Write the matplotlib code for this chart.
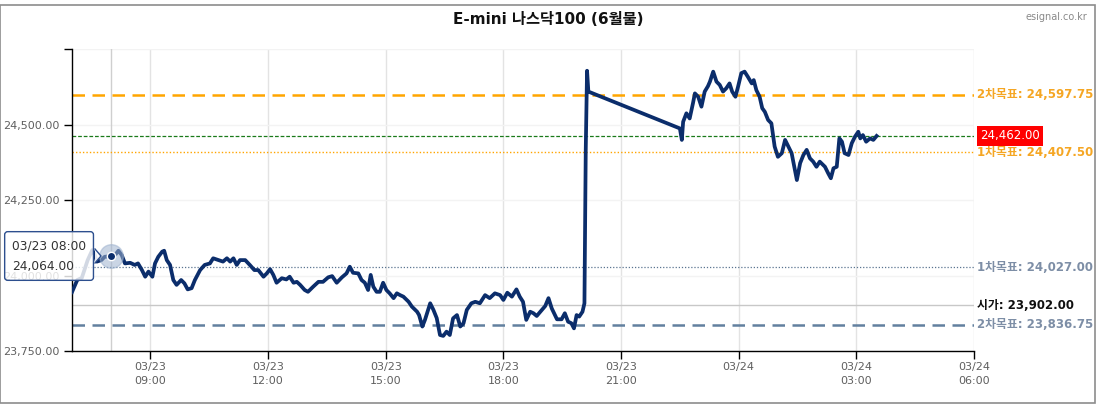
import matplotlib.pyplot as plt
import matplotlib.dates as mdates
import matplotlib.ticker as mticker
import pandas as pd
from matplotlib.patches import Rectangle, Polygon
from matplotlib.lines import Line2D

plt.rcParams['font.family'] = ['DejaVu Sans', 'Noto Sans CJK KR']

# price path (KST)
times = [
    "03/23 07:00", "03/23 07:08", "03/23 07:15", "03/23 07:24", "03/23 07:31", "03/23 07:35",
    "03/23 07:38", "03/23 07:45", "03/23 07:50", "03/23 08:00", "03/23 08:06", "03/23 08:11",
    "03/23 08:16", "03/23 08:21", "03/23 08:29", "03/23 08:36", "03/23 08:41", "03/23 08:47",
    "03/23 08:52", "03/23 08:57", "03/23 09:03", "03/23 09:07", "03/23 09:12", "03/23 09:18",
    "03/23 09:21", "03/23 09:25", "03/23 09:30", "03/23 09:35", "03/23 09:40", "03/23 09:47",
    "03/23 09:52", "03/23 09:57", "03/23 10:03", "03/23 10:08", "03/23 10:16", "03/23 10:23",
    "03/23 10:31", "03/23 10:36", "03/23 10:44", "03/23 10:51", "03/23 10:57", "03/23 11:02",
    "03/23 11:07", "03/23 11:12", "03/23 11:17", "03/23 11:25", "03/23 11:32", "03/23 11:39",
    "03/23 11:45", "03/23 11:53", "03/23 11:58", "03/23 12:03", "03/23 12:08", "03/23 12:13",
    "03/23 12:21", "03/23 12:28", "03/23 12:33", "03/23 12:39", "03/23 12:44", "03/23 12:49",
    "03/23 12:56", "03/23 13:01", "03/23 13:09", "03/23 13:17", "03/23 13:24", "03/23 13:32",
    "03/23 13:38", "03/23 13:45", "03/23 13:53", "03/23 14:00", "03/23 14:05", "03/23 14:10",
    "03/23 14:18", "03/23 14:23", "03/23 14:28", "03/23 14:33", "03/23 14:37", "03/23 14:41",
    "03/23 14:46", "03/23 14:51", "03/23 14:56", "03/23 15:01", "03/23 15:06", "03/23 15:12",
    "03/23 15:17", "03/23 15:22", "03/23 15:27", "03/23 15:35", "03/23 15:40", "03/23 15:48",
    "03/23 15:51", "03/23 15:56", "03/23 16:00", "03/23 16:04", "03/23 16:08", "03/23 16:13",
    "03/23 16:18", "03/23 16:23", "03/23 16:28", "03/23 16:33", "03/23 16:38", "03/23 16:43",
    "03/23 16:49", "03/23 16:54", "03/23 16:59", "03/23 17:04", "03/23 17:11", "03/23 17:17",
    "03/23 17:24", "03/23 17:32", "03/23 17:39", "03/23 17:47", "03/23 17:55", "03/23 18:00",
    "03/23 18:06", "03/23 18:13", "03/23 18:20", "03/23 18:25", "03/23 18:30", "03/23 18:35",
    "03/23 18:41", "03/23 18:46", "03/23 18:51", "03/23 18:59", "03/23 19:04", "03/23 19:09",
    "03/23 19:14", "03/23 19:22", "03/23 19:29", "03/23 19:34", "03/23 19:39", "03/23 19:44",
    "03/23 19:48", "03/23 19:52", "03/23 19:56", "03/23 20:01", "03/23 20:04", "03/23 20:06",
    "03/23 20:08", "03/23 20:10",
    "03/23 22:30", "03/23 22:33", "03/23 22:35", "03/23 22:40", "03/23 22:45", "03/23 22:50",
    "03/23 22:53", "03/23 22:58", "03/23 23:03", "03/23 23:08", "03/23 23:13", "03/23 23:16",
    "03/23 23:21", "03/23 23:26", "03/23 23:31", "03/23 23:36", "03/23 23:41", "03/23 23:46",
    "03/23 23:50", "03/23 23:55", "03/23 23:59", "03/24 00:04", "03/24 00:09", "03/24 00:14",
    "03/24 00:20", "03/24 00:23", "03/24 00:27", "03/24 00:32", "03/24 00:36", "03/24 00:40",
    "03/24 00:45", "03/24 00:50", "03/24 00:55", "03/24 01:00", "03/24 01:06", "03/24 01:11",
    "03/24 01:16", "03/24 01:21", "03/24 01:26", "03/24 01:29", "03/24 01:34", "03/24 01:39",
    "03/24 01:44", "03/24 01:49", "03/24 01:54", "03/24 01:59", "03/24 02:04", "03/24 02:12",
    "03/24 02:17", "03/24 02:21", "03/24 02:25", "03/24 02:30", "03/24 02:34", "03/24 02:38",
    "03/24 02:42", "03/24 02:48", "03/24 02:53", "03/24 02:58", "03/24 03:03", "03/24 03:06",
    "03/24 03:10", "03/24 03:15", "03/24 03:21", "03/24 03:26", "03/24 03:31",
]
prices = [
    23945, 23985, 23992, 24051, 24084, 24068,
    24046, 24051, 24062, 24064, 24068, 24082,
    24068, 24040, 24042, 24035, 24040, 24018,
    23996, 24013, 23996, 24040, 24062, 24079,
    24082, 24051, 24035, 23985, 23969, 23985,
    23974, 23954, 23958, 23985, 24018, 24035,
    24040, 24057, 24051, 24046, 24057, 24046,
    24057, 24035, 24051, 24051, 24035, 24018,
    24018, 23996, 24007, 24021, 24002, 23976,
    23991, 23987, 23996, 23976, 23979, 23969,
    23952, 23946, 23963, 23979, 23979, 23994,
    23998, 23976, 23994, 24007, 24029, 24009,
    24007, 23985, 23976, 23952, 24002, 23963,
    23946, 23946, 23976, 23952, 23941, 23925,
    23941, 23935, 23930, 23913, 23897, 23880,
    23869, 23831, 23853, 23880, 23908, 23886,
    23859, 23803, 23800, 23814, 23803, 23858,
    23869, 23831, 23842, 23886, 23908, 23913,
    23908, 23935, 23925, 23941, 23935, 23919,
    23943, 23930, 23954, 23930, 23913, 23853,
    23880, 23875, 23866, 23886, 23899, 23925,
    23891, 23855, 23855, 23875, 23847, 23842,
    23825, 23869, 23864, 23880, 23908, 24416,
    24678, 24609,
    24487, 24449, 24509, 24537, 24520, 24570,
    24603, 24592, 24559, 24609, 24627, 24642,
    24675, 24642, 24631, 24609, 24620, 24636,
    24609, 24592, 24625, 24670, 24675, 24658,
    24636, 24647, 24614, 24592, 24554, 24542,
    24515, 24504, 24427, 24393, 24405, 24449,
    24427, 24405, 24349, 24316, 24372, 24399,
    24416, 24388, 24377, 24360, 24377, 24360,
    24338, 24322, 24355, 24360, 24454, 24443,
    24405, 24399, 24438, 24460, 24476, 24454,
    24465, 24443, 24454, 24449, 24462,
]

# reference levels: (value, label text, line colour, line style, width, label colour)
level_values = [24597.75, 24407.50, 24027.00, 23902.00, 23836.75]
level_labels = ["2차목표: 24,597.75", "1차목표: 24,407.50", "1차목표: 24,027.00",
                "시가: 23,902.00", "2차목표: 23,836.75"]
level_colors = ["#FFA500", "#FFA500", "#5a7490", "#c8c8c8", "#62809f"]
level_styles = [(0, (5, 3)), (0, (1, 1.5)), (0, (1, 1.5)), "-", (0, (5, 3))]
level_widths = [1.8, 1.0, 0.9, 1.0, 1.8]
level_text_colors = ["#F5A623", "#F5A623", "#7d8ea6", "#111111", "#7d8ea6"]

last_price = 24462.00
tip_time, tip_price = "03/23 08:00", 24064.00

yticks = [23750, 24000, 24250, 24500, 24750]
xtick_times = ["03/23 09:00", "03/23 12:00", "03/23 15:00", "03/23 18:00",
               "03/23 21:00", "03/24 00:00", "03/24 03:00", "03/24 06:00"]


def to_dt(s):
    return pd.to_datetime("2025/" + s, format="%Y/%m/%d %H:%M")


W, H = 1114, 415
fig = plt.figure(figsize=(W / 100, H / 100), dpi=100)
ax = fig.add_axes([72 / W, 1 - 351 / H, (974 - 72) / W, (351 - 49) / H])

t = [to_dt(s) for s in times]
ax.set_xlim(to_dt("03/23 07:00"), to_dt("03/24 06:00"))
ax.set_ylim(23750, 24750)

ax.set_yticks(yticks)
ax.set_yticklabels(["" if v == 24750 else f"{v:,.2f}" for v in yticks])
ax.set_xticks([to_dt(s) for s in xtick_times])


def xfmt(x, pos):
    d = mdates.num2date(x)
    if d.hour == 0:
        return d.strftime("%m/%d")
    return d.strftime("%m/%d\n%H:%M")


ax.xaxis.set_major_formatter(mticker.FuncFormatter(xfmt))
ax.tick_params(axis='both', direction='out', length=6, width=1, color='black',
               labelcolor='#5f5f5f', labelsize=8)
ax.tick_params(axis='y', pad=3)
ax.tick_params(axis='x', pad=2)
for lab in ax.get_xticklabels():
    lab.set_linespacing(1.45)

for s in ['top', 'right']:
    ax.spines[s].set_visible(False)
for s in ['left', 'bottom']:
    ax.spines[s].set_color('black')
    ax.spines[s].set_linewidth(1)

ax.grid(axis='x', color='#e3e3e3', lw=1)
ax.grid(axis='y', color='#f3f3f3', lw=1)
ax.set_axisbelow(True)

# crosshair at the hovered point
ax.axvline(to_dt(tip_time), color='#cfcfcf', lw=1, zorder=1)

for v, lab, c, ls, lw, tc in zip(level_values, level_labels, level_colors,
                                  level_styles, level_widths, level_text_colors):
    ax.axhline(v, color=c, ls=ls, lw=lw, zorder=2)
    ax.text(1.0035, v, lab, transform=ax.get_yaxis_transform(), color=tc,
            fontsize=8.5, fontweight='bold', va='center', ha='left', clip_on=False)

ax.axhline(last_price, color='#1a7a1a', ls=(0, (3, 1.5)), lw=0.9, zorder=2)
ax.text(1.007, last_price, f"{last_price:,.2f}", transform=ax.get_yaxis_transform(),
        color='white', fontsize=8.5, va='center', ha='left', zorder=6, clip_on=False,
        bbox=dict(facecolor='#ff0000', edgecolor='none', pad=2.2))

ax.plot(t, prices, color='#0b2d6b', lw=2.7, solid_joinstyle='round', zorder=4)

# hover marker
ax.plot([to_dt(tip_time)], [tip_price], 'o', ms=17, color='#9fb3cf', alpha=0.55, zorder=5)
ax.plot([to_dt(tip_time)], [tip_price], 'o', ms=6, color='#0b2d6b', mec='white', mew=1, zorder=5)

# tooltip box (figure pixels)
fig.text(12 / W, 1 - 256 / H, f"{tip_time}\n{tip_price:,.2f}", fontsize=8.8, color='#333333',
         va='center', ha='left', linespacing=1.8, zorder=10,
         bbox=dict(boxstyle='round,pad=0.6,rounding_size=0.25',
                   facecolor=(1, 1, 1, 0.82), edgecolor='#2d4f8e', lw=1))
arrow = Polygon([[95 / W, 1 - 249 / H], [101 / W, 1 - 256 / H], [95 / W, 1 - 263 / H]],
                closed=True, transform=fig.transFigure, facecolor=(1, 1, 1, 0.9),
                edgecolor='none', zorder=10)
fig.patches.append(arrow)
fig.lines.append(Line2D([95 / W, 101 / W, 95 / W], [1 - 249 / H, 1 - 256 / H, 1 - 263 / H],
                        transform=fig.transFigure, color='#2d4f8e', lw=1, zorder=11))

fig.text(548 / W, 1 - 20 / H, "E-mini 나스닥100 (6월물)", fontsize=11, fontweight='bold',
         ha='center', va='center', color='#111111')
fig.text(1087 / W, 1 - 17 / H, "esignal.co.kr", fontsize=7, color='#8a8a8a',
         ha='right', va='center')

fig.patches.append(Rectangle((0, 1 - 403 / H), 1095 / W, 398 / H, transform=fig.transFigure,
                             fill=False, edgecolor='#8c8c8c', lw=1.2))

fig.savefig("out.png", dpi=100)
